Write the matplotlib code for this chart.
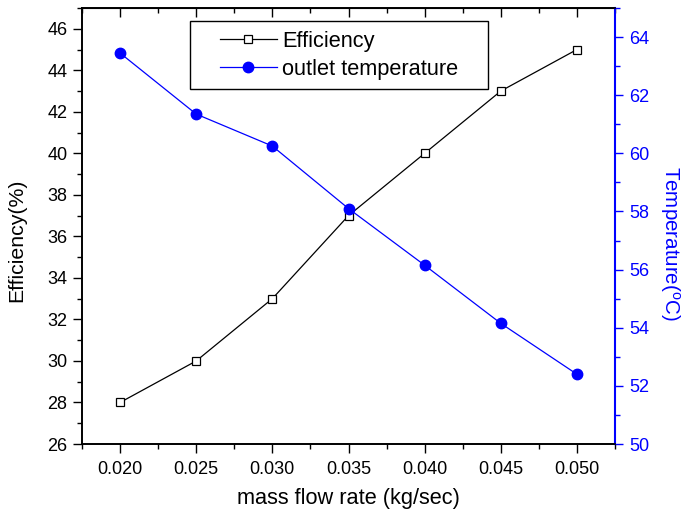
import matplotlib
matplotlib.use('Agg')
import matplotlib.pyplot as plt
from matplotlib.patches import Rectangle
from matplotlib.ticker import MultipleLocator

plt.rcParams['font.family'] = ['Liberation Sans', 'DejaVu Sans']
plt.rcParams['mathtext.fontset'] = 'custom'
plt.rcParams['mathtext.rm'] = 'Liberation Sans'

mass_flow = [0.020, 0.025, 0.030, 0.035, 0.040, 0.045, 0.050]
efficiency = [28, 30, 33, 37, 40, 43, 45]
outlet_temp = [63.45, 61.35, 60.25, 58.1, 56.15, 54.15, 52.4]

blue = '#0000ff'

fig = plt.figure(figsize=(6.82, 5.19), dpi=100)
ax = fig.add_axes([0.1202, 0.1445, 0.7816, 0.8401])
ax2 = ax.twinx()

l1, = ax.plot(mass_flow, efficiency, color='black', lw=0.9, marker='s',
              markersize=6, markerfacecolor='white', markeredgecolor='black',
              markeredgewidth=0.9, label='Efficiency')
l2, = ax2.plot(mass_flow, outlet_temp, color=blue, lw=0.9, marker='o',
               markersize=7.5, markerfacecolor=blue, markeredgecolor=blue,
               label='outlet temperature')

ax.set_xlim(0.0175, 0.0525)
ax.set_ylim(26, 47)
ax2.set_ylim(50, 65)

ax.set_xticks(mass_flow)
ax.set_xticklabels(['%.3f' % v for v in mass_flow])
ax.xaxis.set_minor_locator(MultipleLocator(0.0025))
ax.yaxis.set_major_locator(MultipleLocator(2))
ax.yaxis.set_minor_locator(MultipleLocator(1))
ax2.set_yticks(range(50, 65, 2))
ax2.yaxis.set_minor_locator(MultipleLocator(1))

ax.tick_params(axis='both', which='major', direction='out', length=6.5,
               width=1, labelsize=13, pad=4)
ax.tick_params(axis='both', which='minor', direction='out', length=3.8, width=1)
ax.tick_params(axis='x', which='major', pad=6)
ax2.tick_params(axis='y', which='major', direction='out', length=6, width=1,
                labelsize=13, colors=blue, pad=4)
ax2.tick_params(axis='y', which='minor', direction='out', length=3.8,
                width=1, colors=blue)

top = ax.secondary_xaxis('top')
top.set_xticks(mass_flow)
top.xaxis.set_minor_locator(MultipleLocator(0.0025))
top.tick_params(which='major', direction='in', length=6.5, width=1, labeltop=False)
top.tick_params(which='minor', direction='in', length=3.8, width=1)

for s in ax.spines.values():
    s.set_linewidth(1.2)
for s in ax2.spines.values():
    s.set_linewidth(1.2)
ax2.spines['right'].set_color(blue)
ax2.spines['right'].set_linewidth(1.5)

ax.set_xlabel('mass flow rate (kg/sec)', fontsize=15.7, labelpad=7)
ax.set_ylabel('Efficiency(%)', fontsize=15.3)
ax.yaxis.set_label_coords(-0.105, 0.468)
ax2.set_ylabel(r'Temperature($\mathregular{^o}$C)', fontsize=14.8, color=blue,
               rotation=-90, va='bottom')
ax2.yaxis.set_label_coords(1.081, 0.459)

# legend frame drawn separately (wide padding like the original)
ax2.add_patch(Rectangle((190 / 682, 1 - 89 / 519), 298 / 682, 68 / 519,
                        transform=fig.transFigure, facecolor='white',
                        edgecolor='black', lw=1, zorder=4, clip_on=False))
leg = ax2.legend([l1, l2], ['Efficiency', 'outlet temperature'],
                 loc='upper left', bbox_to_anchor=(220 / 682, 1 - 31 / 519),
                 bbox_transform=fig.transFigure,
                 fontsize=15.7, frameon=False,
                 handlelength=2.6, borderpad=0, labelspacing=0.3,
                 handletextpad=0.25, borderaxespad=0)
leg.set_zorder(6)

fig.savefig('out.png', dpi=100)
